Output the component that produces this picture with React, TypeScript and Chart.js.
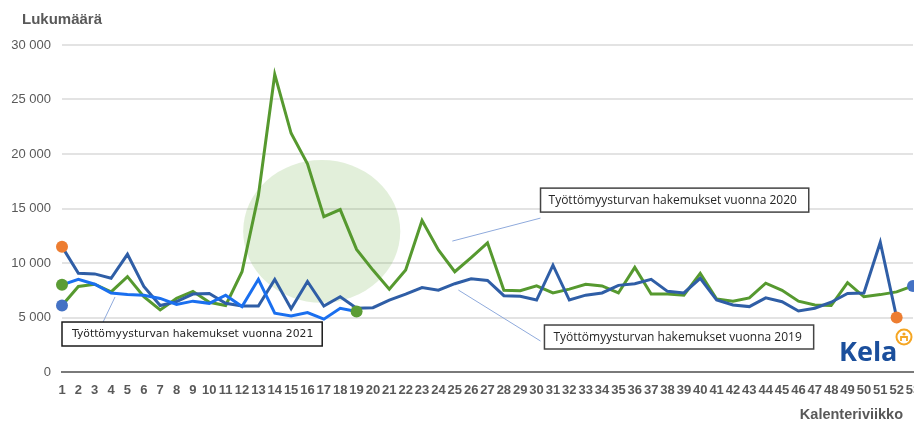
import React, { useEffect, useRef } from 'react';
import { Chart, registerables } from 'chart.js';

Chart.register(...registerables);

// ---------- data ----------
const weeks = [
  '1', '2', '3', '4', '5', '6', '7', '8', '9', '10',
  '11', '12', '13', '14', '15', '16', '17', '18', '19', '20',
  '21', '22', '23', '24', '25', '26', '27', '28', '29', '30',
  '31', '32', '33', '34', '35', '36', '37', '38', '39', '40',
  '41', '42', '43', '44', '45', '46', '47', '48', '49', '50',
  '51', '52', '53',
];

const applications2019 = [
  11500, 9050, 9000, 8600, 10800, 7850, 6100, 6450, 7150, 7200,
  6300, 6050, 6050, 8500, 5800, 8300, 6050, 6900, 5850, 5900,
  6600, 7150, 7750, 7500, 8100, 8550, 8400, 7000, 6950, 6600,
  9800, 6600, 7050, 7250, 7950, 8100, 8500, 7400, 7250, 8600,
  6600, 6150, 6000, 6800, 6450, 5600, 5850, 6400, 7200, 7250,
  11900, 5000,
];

const applications2020 = [
  6100, 7850, 8050, 7350, 8750, 6900, 5700, 6750, 7400, 6400,
  6100, 9200, 16200, 27300, 21900, 19100, 14250, 14900, 11250, 9350,
  7600, 9350, 13900, 11200, 9200, 10500, 11850, 7500, 7450, 7900,
  7250, 7600, 8050, 7900, 7250, 9600, 7150, 7150, 7050, 9050,
  6700, 6500, 6800, 8150, 7500, 6500, 6150, 6100, 8200, 6900,
  7100, 7350, 7900,
];

const applications2021 = [
  8000, 8500, 8050, 7250, 7100, 7050, 6750, 6200, 6500, 6300,
  7050, 6000, 8500, 5400, 5150, 5450, 4850, 5850, 5550,
];

const yTickValues = [0, 5000, 10000, 15000, 20000, 25000, 30000];

// ---------- styling ----------
const FONT = '"Liberation Sans", Arial, sans-serif';
const AXIS_TEXT = '#595959';
const COLOR_2019 = '#2F5EA6';
const COLOR_2020 = '#56992F';
const COLOR_2021 = '#1A6FEF';
const DOT_2019 = '#ED7D31';
const DOT_2020 = '#4472C4';
const DOT_2021 = '#5B9C35';

// highlight ellipse (data units: week, value)
const HIGHLIGHT_CENTER_WEEK = 16.87;
const HIGHLIGHT_CENTER_VALUE = 12900;
const HIGHLIGHT_HALF_WEEKS = 4.8;
const HIGHLIGHT_HALF_VALUE = 6550;

// callouts (data units: week, value)
const CALLOUTS = [
  {
    text: 'Työttömyysturvan hakemukset vuonna 2021',
    box: [1, 4585, 16.9, 2385],
    leader: [4.24, 6880, 3.51, 4585],
    font: '10.8px "DejaVu Sans", Verdana, sans-serif',
    pad: 10,
    border: '#1a1a1a',
  },
  {
    text: 'Työttömyysturvan hakemukset vuonna 2020',
    box: [30.24, 16870, 46.63, 14670],
    leader: [24.85, 12010, 30.24, 14120],
    font: '12px "Open Sans", sans-serif',
    pad: 8,
    border: '#444444',
  },
  {
    text: 'Työttömyysturvan hakemukset vuonna 2019',
    box: [30.48, 4310, 46.93, 2110],
    leader: [25.22, 7520, 30.24, 2840],
    font: '12px "Open Sans", sans-serif',
    pad: 9,
    border: '#444444',
  },
];

const formatThousands = (v: number) =>
  String(v).replace(/\B(?=(\d{3})+(?!\d))/g, ' ');

const endpointRadius = (len: number) => (ctx: any) =>
  ctx.dataIndex === 0 || ctx.dataIndex === len - 1 ? 6 : 0;

const highlightPlugin = {
  id: 'highlight',
  beforeDatasetsDraw(chart: any) {
    const { ctx, scales } = chart;
    const x = scales.x, y = scales.y;
    const cx = x.getPixelForValue(HIGHLIGHT_CENTER_WEEK - 1);
    const cy = y.getPixelForValue(HIGHLIGHT_CENTER_VALUE);
    const rx = x.getPixelForValue(HIGHLIGHT_CENTER_WEEK - 1 + HIGHLIGHT_HALF_WEEKS) - cx;
    const ry = cy - y.getPixelForValue(HIGHLIGHT_CENTER_VALUE + HIGHLIGHT_HALF_VALUE);
    ctx.save();
    ctx.fillStyle = 'rgba(112,173,71,0.2)';
    ctx.beginPath();
    ctx.ellipse(cx, cy, rx, ry, 0, 0, Math.PI * 2);
    ctx.fill();
    ctx.restore();
  },
};

const annotationPlugin = {
  id: 'annotations',
  afterDatasetsDraw(chart: any) {
    const { ctx, scales, chartArea } = chart;
    const x = scales.x, y = scales.y;
    const px = (w: number) => x.getPixelForValue(w - 1);
    const py = (v: number) => y.getPixelForValue(v);
    ctx.save();
    CALLOUTS.forEach((c) => {
      ctx.strokeStyle = '#8FAADC';
      ctx.lineWidth = 1;
      ctx.beginPath();
      ctx.moveTo(px(c.leader[0]), py(c.leader[1]));
      ctx.lineTo(px(c.leader[2]), py(c.leader[3]));
      ctx.stroke();

      const bx = px(c.box[0]);
      const by = py(c.box[1]);
      const bw = px(c.box[2]) - bx;
      const bh = py(c.box[3]) - by;
      ctx.fillStyle = '#ffffff';
      ctx.fillRect(bx, by, bw, bh);
      ctx.strokeStyle = c.border;
      ctx.lineWidth = 1.5;
      ctx.strokeRect(bx, by, bw, bh);
      ctx.fillStyle = '#262626';
      ctx.font = c.font;
      ctx.textAlign = 'left';
      ctx.textBaseline = 'middle';
      ctx.fillText(c.text, bx + c.pad, by + bh / 2 + 0.5);
    });

    // axis titles
    ctx.fillStyle = AXIS_TEXT;
    ctx.textBaseline = 'alphabetic';
    ctx.font = `bold 15px ${FONT}`;
    ctx.textAlign = 'left';
    ctx.fillText('Lukumäärä', 22, 24);
    ctx.font = `bold 14.5px ${FONT}`;
    ctx.textAlign = 'right';
    ctx.fillText('Kalenteriviikko', 903, 418.5);

    // Kela logo
    const lx = chartArea.right - 74;
    const lyBase = chartArea.bottom - 11;
    ctx.font = 'bold 27px "Open Sans", sans-serif';
    ctx.textAlign = 'left';
    ctx.fillStyle = '#1B4F9C';
    ctx.fillText('Kela', lx, lyBase);
    const rcx = chartArea.right - 9;
    const rcy = chartArea.bottom - 35;
    ctx.strokeStyle = '#F5A623';
    ctx.lineWidth = 2;
    ctx.beginPath();
    ctx.arc(rcx, rcy, 7.5, 0, Math.PI * 2);
    ctx.stroke();
    ctx.fillStyle = '#F5A623';
    ctx.beginPath();
    ctx.arc(rcx, rcy - 3, 1.6, 0, Math.PI * 2);
    ctx.fill();
    ctx.lineWidth = 1.8;
    ctx.beginPath();
    ctx.moveTo(rcx - 3, rcy + 4);
    ctx.lineTo(rcx - 3, rcy);
    ctx.lineTo(rcx + 3, rcy);
    ctx.lineTo(rcx + 3, rcy + 4);
    ctx.stroke();
    ctx.restore();
  },
};

export default function App() {
  const canvasRef = useRef<HTMLCanvasElement | null>(null);

  useEffect(() => {
    document.body.style.margin = '0';
    document.body.style.overflow = 'hidden';
    const canvas = canvasRef.current;
    if (!canvas) return;

    const chart = new Chart(canvas, {
      type: 'line',
      data: {
        labels: weeks,
        datasets: [
          {
            label: 'Työttömyysturvan hakemukset vuonna 2021',
            data: applications2021,
            borderColor: COLOR_2021,
            borderWidth: 3,
            pointRadius: endpointRadius(applications2021.length),
            pointBackgroundColor: DOT_2021,
            pointBorderWidth: 0,
            tension: 0,
          },
          {
            label: 'Työttömyysturvan hakemukset vuonna 2019',
            data: applications2019,
            borderColor: COLOR_2019,
            borderWidth: 3,
            pointRadius: endpointRadius(applications2019.length),
            pointBackgroundColor: DOT_2019,
            pointBorderWidth: 0,
            tension: 0,
          },
          {
            label: 'Työttömyysturvan hakemukset vuonna 2020',
            data: applications2020,
            borderColor: COLOR_2020,
            borderWidth: 3,
            pointRadius: endpointRadius(applications2020.length),
            pointBackgroundColor: DOT_2020,
            pointBorderWidth: 0,
            tension: 0,
          },
        ],
      },
      options: {
        animation: false,
        responsive: true,
        maintainAspectRatio: false,
        layout: { padding: { left: 0, right: 2, top: 45, bottom: 0 } },
        plugins: {
          legend: { display: false },
          tooltip: { enabled: false },
          title: { display: false },
        },
        scales: {
          x: {
            grid: { display: false, drawTicks: false },
            border: { display: true, color: '#7a7a7a', width: 2 },
            ticks: {
              autoSkip: false,
              maxRotation: 0,
              minRotation: 0,
              padding: 11,
              color: AXIS_TEXT,
              font: { family: FONT, size: 13, weight: 'bold' },
            },
            afterFit: (s: any) => {
              s.height = 49;
              s.paddingLeft = 0;
              s.paddingRight = 0;
            },
          },
          y: {
            min: yTickValues[0],
            max: yTickValues[yTickValues.length - 1],
            afterBuildTicks: (s: any) => {
              s.ticks = yTickValues.map((v) => ({ value: v }));
            },
            ticks: {
              padding: 11,
              color: AXIS_TEXT,
              font: { family: FONT, size: 13 },
              callback: (v: any) => formatThousands(Number(v)),
            },
            grid: { color: '#e3e3e3', lineWidth: 2, drawTicks: false },
            border: { display: false },
            afterFit: (s: any) => {
              s.width = 62;
            },
          },
        },
      } as any,
      plugins: [highlightPlugin, annotationPlugin],
    });

    return () => chart.destroy();
  }, []);

  return (
    <div style={{ width: 914, height: 421, overflow: 'hidden' }}>
      <div style={{ width: 919, height: 421, position: 'relative' }}>
        <canvas ref={canvasRef} />
      </div>
    </div>
  );
}
